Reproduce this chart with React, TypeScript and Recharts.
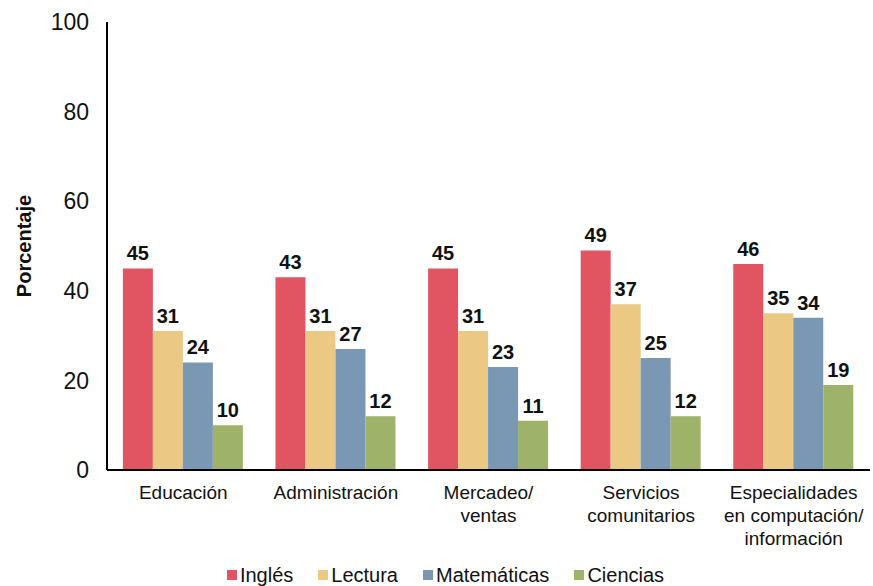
import { JSX } from 'react';
import {
  Bar,
  BarChart,
  LabelList,
  Legend,
  XAxis,
  YAxis,
} from 'recharts';

const categories = [
  'Educación',
  'Administración',
  'Mercadeo/\nventas',
  'Servicios\ncomunitarios',
  'Especialidades\nen computación/\ninformación',
];
const ingles = [45, 43, 45, 49, 46];
const lectura = [31, 31, 31, 37, 35];
const matematicas = [24, 27, 23, 25, 34];
const ciencias = [10, 12, 11, 12, 19];
const yTicks = [0, 20, 40, 60, 80, 100];

const series = [
  { key: 'ingles', name: 'Inglés', color: '#E15563' },
  { key: 'lectura', name: 'Lectura', color: '#EBC985' },
  { key: 'matematicas', name: 'Matemáticas', color: '#7A97B4' },
  { key: 'ciencias', name: 'Ciencias', color: '#9EB26A' },
];

const data = categories.map((name, i) => ({
  name,
  ingles: ingles[i],
  lectura: lectura[i],
  matematicas: matematicas[i],
  ciencias: ciencias[i],
}));

const FONT = '"Liberation Sans", Arial, Helvetica, sans-serif';

type TickProps = { x?: number; y?: number; payload?: { value: string } };

const CategoryTick = ({ x = 0, y = 0, payload }: TickProps) => {
  const lines = String(payload?.value ?? '').split('\n');
  return (
    <text x={x} y={y} textAnchor='middle' fontSize={19} fill='#111' fontFamily={FONT}>
      {lines.map((line, i) => (
        <tspan key={i} x={x} dy={i === 0 ? 21 : 23}>
          {line}
        </tspan>
      ))}
    </text>
  );
};

const LegendContent = () => (
  <div
    style={{
      display: 'flex',
      justifyContent: 'center',
      gap: 25,
      paddingLeft: 18,
      fontFamily: FONT,
      fontSize: 20,
      lineHeight: '24px',
      color: '#111',
    }}
  >
    {series.map((s) => (
      <div key={s.key} style={{ display: 'flex', alignItems: 'flex-start' }}>
        <span
          style={{
            width: 10,
            height: 10,
            background: s.color,
            marginTop: 7,
            marginRight: 3,
          }}
        />
        <span>{s.name}</span>
      </div>
    ))}
  </div>
);

export default function App(): JSX.Element {
  return (
    <div style={{ position: 'absolute', left: 0, top: 0, background: '#fff' }}>
      <BarChart
        width={873}
        height={586}
        data={data}
        margin={{ top: 22, right: 3, bottom: 22, left: 0 }}
        barCategoryGap='10.4%'
        barGap={0}
      >
        <XAxis
          dataKey='name'
          axisLine={{ stroke: '#000', strokeWidth: 2 }}
          tickLine={false}
          interval={0}
          height={70}
          tick={<CategoryTick />}
        />
        <YAxis
          domain={[0, 100]}
          ticks={yTicks}
          width={107}
          axisLine={{ stroke: '#000', strokeWidth: 2 }}
          tickLine={false}
          tickMargin={12}
          tick={{ fontSize: 23, fill: '#111', fontFamily: FONT }}
          label={{
            value: 'Porcentaje',
            angle: -90,
            position: 'insideLeft',
            offset: 24,
            textAnchor: 'middle',
            style: { fontSize: 20, fontWeight: 'bold', fill: '#111', fontFamily: FONT, textAnchor: 'middle' },
          }}
        />
        <Legend
          verticalAlign='bottom'
          content={<LegendContent />}
          wrapperStyle={{ top: 563, left: 0, width: 873, height: 24 }}
        />
        {series.map((s) => (
          <Bar
            key={s.key}
            dataKey={s.key}
            name={s.name}
            fill={s.color}
            isAnimationActive={false}
          >
            <LabelList
              dataKey={s.key}
              position='top'
              offset={8}
              style={{ fontSize: 20, fontWeight: 'bold', fill: '#111', fontFamily: FONT }}
            />
          </Bar>
        ))}
      </BarChart>
    </div>
  );
}
